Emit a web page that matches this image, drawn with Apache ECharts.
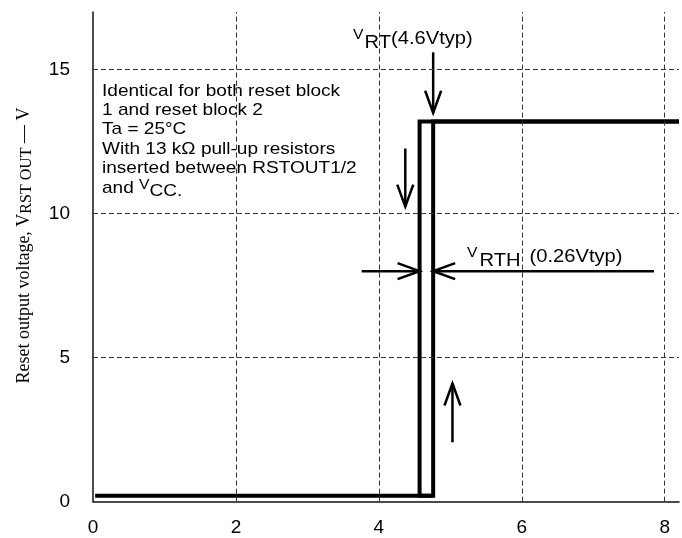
<!DOCTYPE html>
<html><head><meta charset="utf-8">
<script src="https://cdn.jsdelivr.net/npm/echarts@6/dist/echarts.min.js"></script>
<style>html,body{margin:0;padding:0;background:#fff}#c{width:682px;height:538px}</style>
</head><body><div id="c"></div>
<script>
// ---- data ----
const xTicks = [0, 2, 4, 6, 8];
const yTicks = [0, 5, 10, 15];
const xGrid = [2, 4, 6, 8];
const yGrid = [5, 10, 15];
const risingPath = [[0.03, 0.2], [4.76, 0.2], [4.76, 13.2], [8.2, 13.2]];
const fallingPath = [[8.2, 13.2], [4.57, 13.2], [4.57, 0.2], [4.76, 0.2]];
const arrowFrom = [[4.76, 15.6], [4.37, 12.26], [5.03, 2.06], [3.76, 8.0], [7.85, 8.0]];
const arrowTo   = [[4.76, 13.5], [4.37, 10.24], [5.03, 4.1],  [4.57, 8.0], [4.76, 8.0]];
const noteLines = [
  'Identical for both reset block',
  '1 and reset block 2',
  'Ta = 25\u00B0C',
  'With 13 k\u03A9 pull-up resistors',
  'inserted between RSTOUT1/2'
];

// ---- helpers ----
const SANS = '"Liberation Sans", Arial, sans-serif';
const SERIF = '"Liberation Serif", "Times New Roman", serif';
const mctx = document.createElement('canvas').getContext('2d');
function measure(t, size, fam) { mctx.font = size + 'px ' + fam; return mctx.measureText(t).width; }
function runWidth(parts, fam, sx) {
  let w = 0;
  parts.forEach(p => { w += measure(p.t, p.s, fam) * sx + (p.gap || 0); });
  return w;
}
function run(parts, x, y, fam, sx, rot) {
  const children = [];
  let cx = 0;
  parts.forEach(p => {
    cx += (p.gap || 0);
    children.push({
      type: 'text', x: cx, y: p.dy || 0, scaleX: sx,
      style: { text: p.t, fontSize: p.s, fontFamily: fam, fill: '#000', align: 'left', verticalAlign: 'middle' }
    });
    cx += measure(p.t, p.s, fam) * sx;
  });
  return { type: 'group', x: x, y: y, rotation: rot || 0, children: children, silent: true };
}

const SX = 1.12;
const graphics = [];
// note block
noteLines.forEach((t, i) => {
  graphics.push(run([{ t: t, s: 17 }], 102, 91 + i * 19.4, SANS, SX));
});
graphics.push(run([{ t: 'and ', s: 17 }, { t: 'V', s: 14, dy: -3 }, { t: 'CC', s: 17, dy: 3 }, { t: '.', s: 17, dy: 3 }],
  102, 91 + 5 * 19.4, SANS, SX));
// VRT label
graphics.push(run([{ t: 'V', s: 14, dy: -4 }, { t: 'RT', s: 18, dy: 4, gap: 1 }, { t: '(4.6Vtyp)', s: 18, dy: 0 }],
  353, 39, SANS, SX));
// VRTH label
graphics.push(run([{ t: 'V', s: 14, dy: -4 }, { t: 'RTH', s: 18, dy: 4, gap: 2 }, { t: '(0.26Vtyp)', s: 18, dy: 0, gap: 9 }],
  467, 257, SANS, SX));
// y axis name (rotated)
const yNameParts = [{ t: 'Reset output voltage, V', s: 18 }, { t: 'RST OUT', s: 16, dy: 3 }, { t: ' \u2014 V', s: 18 }];
const yNameW = runWidth(yNameParts, SERIF, 1);
graphics.push(run(yNameParts, 24, 245.5 + yNameW / 2, SERIF, 1, Math.PI / 2));

const chart = echarts.init(document.getElementById('c'), null, { renderer: 'canvas' });
const markData = xGrid.map(v => ({ xAxis: v })).concat(yGrid.map(v => ({ yAxis: v })));
const arrowData = arrowFrom.map((f, i) => [f[0], f[1], arrowTo[i][0], arrowTo[i][1]]);

chart.setOption({
  animation: false,
  backgroundColor: '#fff',
  grid: { left: 93, top: 12, width: 590.4, height: 489.6, containLabel: false },
  xAxis: {
    type: 'value', min: 0, max: 8.2, interval: 2,
    axisLine: { show: true, onZero: false, lineStyle: { color: '#111', width: 1.5 } },
    axisTick: { show: false }, splitLine: { show: false },
    axisLabel: { margin: 17, fontSize: 19, color: '#000', fontFamily: SANS,
      formatter: v => (xTicks.indexOf(v) >= 0 ? String(v) : '') }
  },
  yAxis: {
    type: 'value', min: 0, max: 17, interval: 5,
    axisLine: { show: true, onZero: false, lineStyle: { color: '#111', width: 1.5 } },
    axisTick: { show: false }, splitLine: { show: false },
    axisLabel: { margin: 23, fontSize: 19, color: '#000', fontFamily: SANS,
      formatter: v => (yTicks.indexOf(v) >= 0 ? String(v) : '') }
  },
  graphic: { elements: graphics },
  series: [
    {
      type: 'line', data: [], z: 1, silent: true,
      markLine: {
        silent: true, symbol: 'none', animation: false,
        label: { show: false },
        lineStyle: { color: '#333', width: 1, type: [5, 3] },
        data: markData
      }
    },
    {
      type: 'line', data: risingPath, z: 3, symbol: 'none', silent: true, clip: false,
      lineStyle: { color: '#000', width: 4, join: 'miter', cap: 'butt' }
    },
    {
      type: 'line', data: fallingPath, z: 3, symbol: 'none', silent: true, clip: false,
      lineStyle: { color: '#000', width: 4, join: 'miter', cap: 'butt' }
    },
    {
      type: 'custom', z: 4, silent: true, data: arrowData,
      encode: { x: [0, 2], y: [1, 3] },
      renderItem: function (params, api) {
        const p1 = api.coord([api.value(0), api.value(1)]);
        const p2 = api.coord([api.value(2), api.value(3)]);
        const dx = p2[0] - p1[0], dy = p2[1] - p1[1];
        const len = Math.sqrt(dx * dx + dy * dy) || 1;
        const ux = dx / len, uy = dy / len;
        const L = 22, W = 8;
        const bx = p2[0] - ux * L, by = p2[1] - uy * L;
        const a = [bx - uy * W, by + ux * W];
        const b = [bx + uy * W, by - ux * W];
        const st = { stroke: '#000', lineWidth: 2.5, fill: null, lineCap: 'butt', lineJoin: 'miter' };
        return {
          type: 'group', children: [
            { type: 'line', shape: { x1: p1[0], y1: p1[1], x2: p2[0], y2: p2[1] }, style: st },
            { type: 'polyline', shape: { points: [a, p2, b] }, style: st }
          ]
        };
      }
    }
  ]
});
</script></body></html>
